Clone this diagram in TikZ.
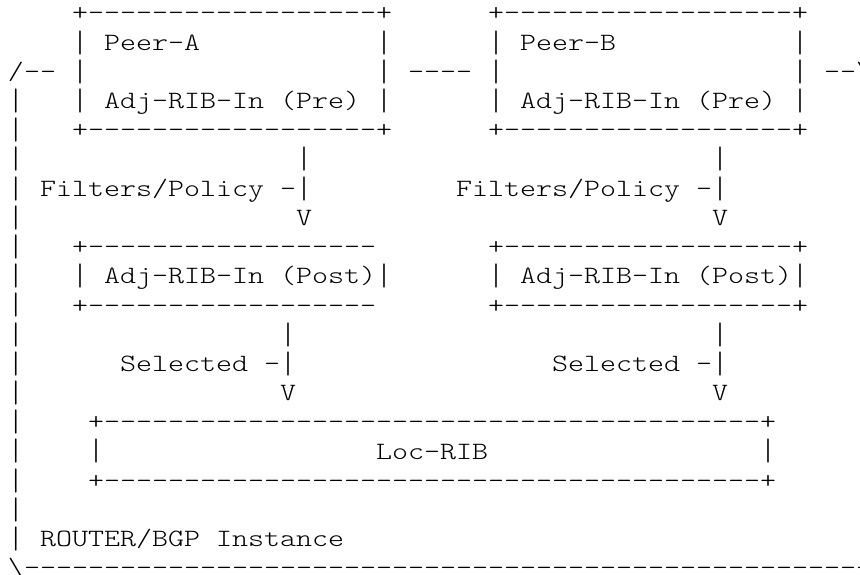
\documentclass[tikz,border=0pt]{standalone}
\usepackage{fontspec}
% Light slab-serif typewriter face, widened to a 16pt character cell
\setmonofont{lmmonolt10-regular.otf}[FakeStretch=1.224]
\frenchspacing

% Text art on a fixed character grid: 16pt per column, 29.2pt per row.
\newcommand\gridtext[4]{%
  \node[gridchar] (#1) at ({8+16*(#2)},{-(21+29.2*(#3))}) {#4};}
% Taller vertical bar, stretched about its middle
\newcommand\vb{\raisebox{-0.076em}{\scalebox{1}[1.25]{|}}}

\begin{document}
\begin{tikzpicture}[x=1pt, y=1pt,
  gridchar/.style={anchor=base west, inner sep=0pt, outer sep=0pt,
    text=black, font=\ttfamily\fontsize{24.9pt}{29.2pt}\selectfont}]
\path[use as bounding box] (0,0) rectangle (860,-575);
\clip (0,0) rectangle (860,-575);

% Peer boxes (Adj-RIB-In Pre)
\gridtext{aTop}{4}{0}{+------------------+}
\gridtext{bTop}{30}{0}{+------------------+}
\gridtext{aL1}{4}{1}{\vb}
\gridtext{aName}{6}{1}{Peer-A}
\gridtext{aR1}{23}{1}{\vb}
\gridtext{bL1}{30}{1}{\vb}
\gridtext{bName}{32}{1}{Peer-B}
\gridtext{bR1}{49}{1}{\vb}
\gridtext{frameTL}{0}{2}{/--}
\gridtext{aL2}{4}{2}{\vb}
\gridtext{aR2}{23}{2}{\vb}
\gridtext{link}{25}{2}{----}
\gridtext{bL2}{30}{2}{\vb}
\gridtext{bR2}{49}{2}{\vb}
\gridtext{frameTR}{51}{2}{--\textbackslash}
\gridtext{aL3}{4}{3}{\vb}
\gridtext{aPre}{6}{3}{Adj-RIB-In (Pre)}
\gridtext{aR3}{23}{3}{\vb}
\gridtext{bL3}{30}{3}{\vb}
\gridtext{bPre}{32}{3}{Adj-RIB-In (Pre)}
\gridtext{bR3}{49}{3}{\vb}
\gridtext{aBot}{4}{4}{+------------------+}
\gridtext{bBot}{30}{4}{+------------------+}

% Filters/Policy arrows
\gridtext{aF1}{18}{5}{\vb}
\gridtext{bF1}{44}{5}{\vb}
\gridtext{aFilt}{2}{6}{Filters/Policy -\vb}
\gridtext{bFilt}{28}{6}{Filters/Policy -\vb}
\gridtext{aFV}{18}{7}{V}
\gridtext{bFV}{44}{7}{V}

% Adj-RIB-In (Post) boxes
\gridtext{aPostTop}{4}{8}{+------------------}
\gridtext{bPostTop}{30}{8}{+------------------+}
\gridtext{aPost}{4}{9}{\vb{} Adj-RIB-In (Post)\vb}
\gridtext{bPost}{30}{9}{\vb{} Adj-RIB-In (Post)\vb}
\gridtext{aPostBot}{4}{10}{+------------------}
\gridtext{bPostBot}{30}{10}{+------------------+}

% Selected arrows
\gridtext{aS1}{17}{11}{\vb}
\gridtext{bS1}{44}{11}{\vb}
\gridtext{aSel}{7}{12}{Selected -\vb}
\gridtext{bSel}{34}{12}{Selected -\vb}
\gridtext{aSV}{17}{13}{V}
\gridtext{bSV}{44}{13}{V}

% Loc-RIB box
\gridtext{locTop}{5}{14}{+-----------------------------------------+}
\gridtext{locL}{5}{15}{\vb}
\gridtext{locName}{23}{15}{Loc-RIB}
\gridtext{locR}{47}{15}{\vb}
\gridtext{locBot}{5}{16}{+-----------------------------------------+}

% Outer ROUTER/BGP frame
\foreach \r in {3,...,18} {\gridtext{frameL\r}{0}{\r}{\vb}}
\gridtext{router}{2}{18}{ROUTER/BGP Instance}
\gridtext{frameBot}{0}{19}{\textbackslash-----------------------------------------------------}
\end{tikzpicture}
\end{document}
